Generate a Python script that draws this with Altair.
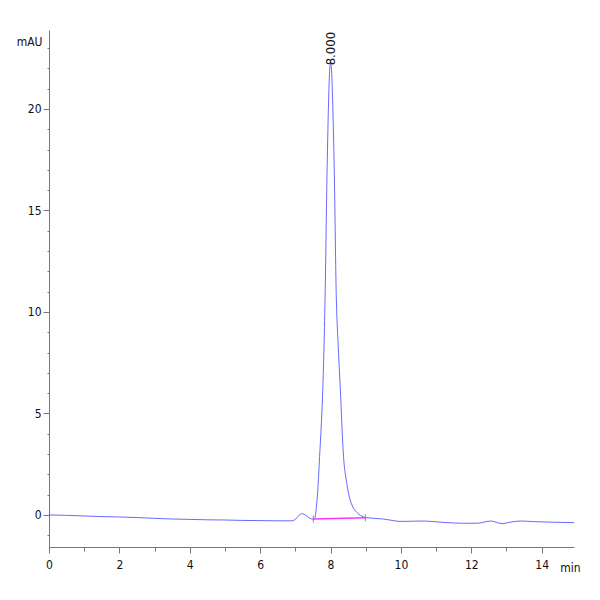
import altair as alt
import pandas as pd

# chromatogram trace (min, mAU)
times = [0.0, 0.5, 1.0, 1.45, 2.0, 2.5, 3.16, 3.5, 4.0, 4.5, 5.0, 5.5, 6.0, 6.5, 6.9,
         7.0, 7.1, 7.19, 7.3, 7.4, 7.5, 7.55, 7.60, 7.64, 7.69, 7.74, 7.78, 7.85, 7.90,
         7.94, 7.97, 8.0, 8.03, 8.07, 8.11, 8.16, 8.22, 8.28, 8.37, 8.45, 8.52, 8.62,
         8.75, 8.85, 9.0, 9.5, 10.0, 10.6, 11.32, 11.78, 12.17, 12.55, 12.88, 13.1,
         13.4, 13.78, 14.35, 14.92]
signal = [0.0, -0.02, -0.05, -0.08, -0.1, -0.13, -0.18, -0.2, -0.22, -0.24, -0.25, -0.27,
          -0.28, -0.29, -0.29, -0.22, -0.02, 0.06, -0.02, -0.15, -0.21, -0.18, 0.41, 1.23,
          2.87, 4.5, 6.16, 11.1, 16.7, 20.0, 21.7, 22.3, 21.9, 19.8, 16.7, 11.1, 8.3, 6.16,
          2.87, 1.7, 1.0, 0.45, 0.12, -0.02, -0.13, -0.2, -0.32, -0.3, -0.38, -0.41, -0.41,
          -0.30, -0.43, -0.36, -0.3, -0.33, -0.36, -0.38]

# integration baseline
base_t = [7.51, 8.99]
base_v = [-0.2, -0.14]

# peak label
peak_t = [8.0]
peak_v = [22.15]
peak_lbl = ["8.000"]

y_ticks = list(range(-1, 24))
x_ticks = [i * 0.5 for i in range(0, 30)]

FONT = "'DejaVu Sans Condensed', 'Liberation Sans', sans-serif"

trace = pd.DataFrame({"t": times, "v": signal})
base = pd.DataFrame({"t": base_t, "v": base_v})
marks = pd.DataFrame({"t": base_t, "v": [v + 0.17 for v in base_v], "v2": [v - 0.17 for v in base_v]})
label = pd.DataFrame({"t": peak_t, "v": peak_v, "lbl": peak_lbl})

xs = alt.Scale(domain=[0, 14.92], nice=False, zero=False)
ys = alt.Scale(domain=[-1.58, 23.89], nice=False, zero=False)

x_axis = alt.Axis(
    values=x_ticks, title="min", grid=False, format="d",
    labelExpr="datum.value % 2 === 0 ? datum.label : ''",
    labelOverlap=False, labelFont=FONT, labelFontSize=12, labelColor="#111",
    labelPadding=6, labelFlush=False,
    tickSize={"condition": {"test": "datum.value % 2 === 0", "value": 6}, "value": 4},
    tickColor="#777", domainColor="#777",
    titleFont=FONT, titleFontSize=12, titleFontWeight="normal", titleColor="#111",
    titleX=521, titleY=20, titleAlign="center", titleBaseline="middle",
)
y_axis = alt.Axis(
    values=y_ticks, title="mAU", grid=False, format="d",
    labelExpr="datum.value % 5 === 0 ? datum.label : ''",
    labelOverlap=False, labelFont=FONT, labelFontSize=12, labelColor="#111",
    labelPadding=2, labelFlush=False,
    tickSize={"condition": {"test": "datum.value % 5 === 0", "value": 6}, "value": 2},
    tickColor="#777", domainColor="#777",
    titleFont=FONT, titleFontSize=12, titleFontWeight="normal", titleColor="#111",
    titleAngle=0, titleX=-7, titleY=11, titleAlign="right", titleBaseline="middle",
)

X = alt.X("t:Q", scale=xs, axis=x_axis)
Y = alt.Y("v:Q", scale=ys, axis=y_axis)

line = alt.Chart(trace).mark_line(color="#4444ff", strokeWidth=1, opacity=0.8,
                                  interpolate="monotone").encode(x=X, y=Y)
bl = alt.Chart(base).mark_line(color="#ff33ff", strokeWidth=1.3).encode(x=X, y=Y)
ticks = alt.Chart(marks).mark_rule(color="#888", strokeWidth=1).encode(x=X, y=Y, y2="v2:Q")
txt = alt.Chart(label).mark_text(angle=270, align="left", baseline="middle",
                                 font=FONT, fontSize=13, color="#111").encode(
    x=X, y=Y, text="lbl:N")

chart = alt.layer(line, bl, ticks, txt).properties(
    width=525, height=517,
    background="white",
    autosize=alt.AutoSizeParams(type="none"),
    padding={"left": 41, "top": 22, "right": 10, "bottom": 30},
).configure_view(strokeWidth=0).configure_axis(labelOverlap=False)

chart.save("out.html", embed_options={"renderer": "svg", "actions": False})
